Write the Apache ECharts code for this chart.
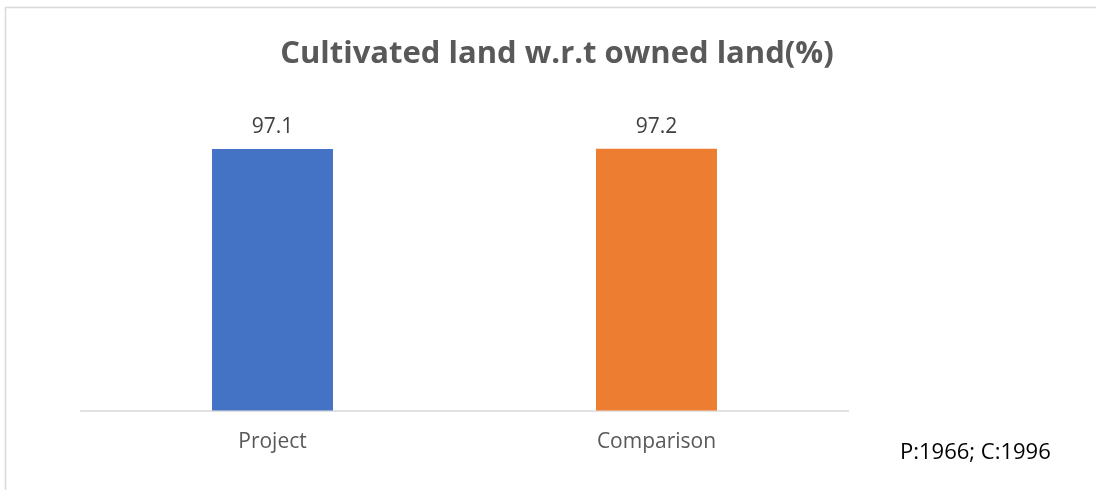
<!DOCTYPE html>
<html>
<head>
<meta charset="utf-8">
<script src="https://cdn.jsdelivr.net/npm/echarts@6/dist/echarts.min.js"></script>
<style>
  html, body { margin: 0; padding: 0; background: #fff; }
  #chart { width: 1096px; height: 490px; }
</style>
</head>
<body>
<div id="chart"></div>
<script>
// Share of owned land that is cultivated
const categories = ['Project', 'Comparison'];
const values = [97.1, 97.2];
const barColors = ['#4472C4', '#ED7D31'];
const titleText = 'Cultivated land w.r.t owned land(%)';
const noteText = 'P:1966; C:1996';

const chart = echarts.init(document.getElementById('chart'), null, { renderer: 'canvas' });

chart.setOption({
  animation: false,
  backgroundColor: '#ffffff',
  title: {
    text: titleText,
    left: 552,
    top: 34,
    textAlign: 'center',
    textStyle: {
      fontFamily: 'Open Sans',
      fontWeight: 'bold',
      fontSize: 31,
      color: '#595959'
    }
  },
  graphic: [
    {
      type: 'rect',
      shape: { x: 5.5, y: 7.5, width: 1200, height: 600 },
      style: { fill: 'none', stroke: '#d9d9d9', lineWidth: 1.5 },
      silent: true
    },
    {
      type: 'text',
      left: 900,
      top: 442,
      style: {
        text: noteText,
        fontFamily: 'Open Sans',
        fontSize: 22,
        fill: '#000000'
      }
    }
  ],
  grid: { left: 80.5, right: 247.5, top: 87.3, bottom: 79.5 },
  xAxis: {
    type: 'category',
    data: categories,
    axisLine: { lineStyle: { color: '#d9d9d9', width: 1.5 } },
    axisTick: { show: false },
    axisLabel: {
      margin: 21,
      fontFamily: 'Open Sans',
      fontSize: 21,
      color: '#595959'
    }
  },
  yAxis: {
    type: 'value',
    min: 0,
    max: 120,
    show: false,
    splitLine: { show: false }
  },
  series: [{
    type: 'bar',
    data: values.map((v, i) => ({ value: v, itemStyle: { color: barColors[i] } })),
    barWidth: '31.5%',
    label: {
      show: true,
      position: 'top',
      distance: 11,
      fontFamily: 'Open Sans',
      fontSize: 21,
      color: '#404040'
    }
  }]
});
</script>
</body>
</html>
